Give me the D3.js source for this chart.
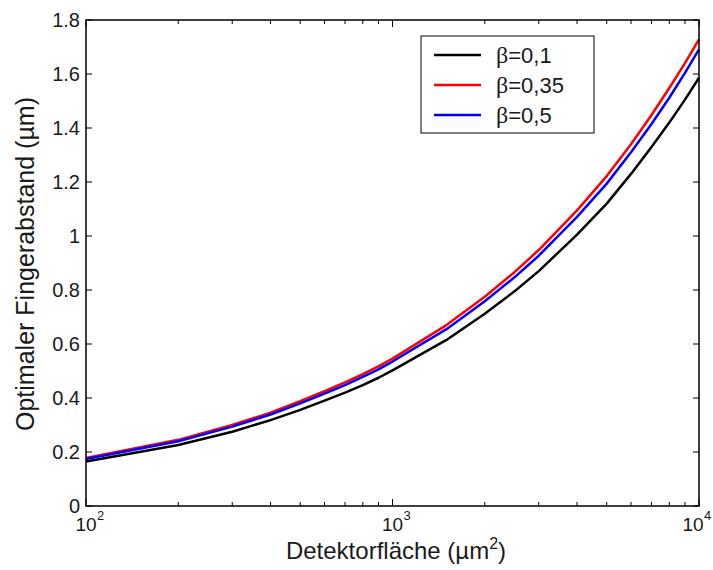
<!DOCTYPE html>
<html lang="de">
<head>
    <meta charset="UTF-8">
    <title>Optimaler Fingerabstand</title>
    <script src="https://d3js.org/d3.v7.min.js"></script>
    <style>
        body { margin: 0; background: #fff; }
        svg { display: block; font-family: "Liberation Sans", Arial, sans-serif; }
    </style>
</head>
<body>
<svg id="chart" width="713" height="570"></svg>
<script>
// Detektorfläche (µm²)
const areas = [100, 200, 300, 400, 500, 600, 700, 800, 900, 1000, 1500, 2000, 2500, 3000, 4000, 5000, 6000, 7000, 8000, 9000, 10000];
// optimaler Fingerabstand (µm) per beta
const beta01  = [0.165, 0.226, 0.275, 0.318, 0.356, 0.390, 0.420, 0.448, 0.475, 0.502, 0.615, 0.712, 0.795, 0.870, 1.005, 1.120, 1.230, 1.330, 1.420, 1.505, 1.586];
const beta035 = [0.178, 0.245, 0.300, 0.346, 0.388, 0.425, 0.458, 0.488, 0.517, 0.546, 0.670, 0.775, 0.866, 0.948, 1.095, 1.222, 1.340, 1.448, 1.548, 1.640, 1.728];
const beta05  = [0.174, 0.240, 0.294, 0.339, 0.380, 0.416, 0.448, 0.478, 0.506, 0.535, 0.655, 0.758, 0.847, 0.927, 1.071, 1.194, 1.310, 1.415, 1.512, 1.604, 1.691];
const seriesNames = ["0,1", "0,35", "0,5"];
const seriesColors = ["#000000", "#ff0000", "#0000ff"];
const yTicks = [0, 0.2, 0.4, 0.6, 0.8, 1, 1.2, 1.4, 1.6, 1.8];
const xMajor = [100, 1000, 10000];

const svg = d3.select("#chart");
const plotL = 86, plotR = 699, plotT = 20, plotB = 506;

const x = d3.scaleLog().domain([100, 10000]).range([plotL, plotR]);
const y = d3.scaleLinear().domain([0, 1.8]).range([plotB, plotT]);

const series = [beta01, beta035, beta05];

// minor ticks for log axis
const xMinor = [];
[100, 1000].forEach(dec => {
    for (let k = 2; k <= 9; k++) xMinor.push(dec * k);
});

const g = svg.append("g");

// ticks (inward, on all four sides)
const tickG = g.append("g").attr("stroke", "#000").attr("stroke-width", 1);
xMinor.forEach(v => {
    tickG.append("line").attr("x1", x(v)).attr("x2", x(v)).attr("y1", plotB).attr("y2", plotB - 4);
    tickG.append("line").attr("x1", x(v)).attr("x2", x(v)).attr("y1", plotT).attr("y2", plotT + 4);
});
xMajor.forEach(v => {
    tickG.append("line").attr("x1", x(v)).attr("x2", x(v)).attr("y1", plotB).attr("y2", plotB - 7);
    tickG.append("line").attr("x1", x(v)).attr("x2", x(v)).attr("y1", plotT).attr("y2", plotT + 7);
});
yTicks.forEach(v => {
    tickG.append("line").attr("x1", plotL).attr("x2", plotL + 6).attr("y1", y(v)).attr("y2", y(v));
    tickG.append("line").attr("x1", plotR).attr("x2", plotR - 6).attr("y1", y(v)).attr("y2", y(v));
});

// data lines
const line = d3.line()
    .x((d, i) => x(areas[i]))
    .y(d => y(d));

series.forEach((s, i) => {
    g.append("path")
        .datum(s)
        .attr("fill", "none")
        .attr("stroke", seriesColors[i])
        .attr("stroke-width", 2.5)
        .attr("stroke-linejoin", "round")
        .attr("d", line);
});

// frame
g.append("rect")
    .attr("x", plotL).attr("y", plotT)
    .attr("width", plotR - plotL).attr("height", plotB - plotT)
    .attr("fill", "none").attr("stroke", "#000").attr("stroke-width", 1.5);

// y tick labels
yTicks.forEach(v => {
    g.append("text")
        .attr("x", plotL - 6)
        .attr("y", y(v))
        .attr("dy", "0.36em")
        .attr("text-anchor", "end")
        .attr("font-size", 20)
        .attr("fill", "#1a1a1a")
        .text(String(v));
});

// x tick labels 10^n (last one nudged left so it stays inside the figure)
xMajor.forEach((v, i) => {
    const cx = x(v) - (i === xMajor.length - 1 ? 6 : 0);
    g.append("text")
        .attr("x", cx)
        .attr("y", 531)
        .attr("text-anchor", "middle")
        .attr("font-size", 19)
        .attr("fill", "#1a1a1a")
        .text("10");
    g.append("text")
        .attr("x", cx + 11)
        .attr("y", 520)
        .attr("font-size", 13)
        .attr("fill", "#1a1a1a")
        .text(Math.round(Math.log10(v)));
});

// axis labels
const xl = g.append("text")
    .attr("x", 396)
    .attr("y", 559)
    .attr("text-anchor", "middle")
    .attr("font-size", 24)
    .attr("fill", "#1a1a1a");
xl.append("tspan").text("Detektorfläche (µm");
xl.append("tspan").attr("dy", -10).attr("font-size", 16).text("2");
xl.append("tspan").attr("dy", 10).text(")");

g.append("text")
    .attr("transform", `translate(34, 264) rotate(-90)`)
    .attr("text-anchor", "middle")
    .attr("font-size", 25)
    .attr("fill", "#1a1a1a")
    .text("Optimaler Fingerabstand (µm)");

// legend
const lg = g.append("g");
lg.append("rect")
    .attr("x", 421).attr("y", 36)
    .attr("width", 173).attr("height", 97)
    .attr("fill", "#fff").attr("stroke", "#000").attr("stroke-width", 1);

seriesNames.forEach((name, i) => {
    const ly = 55 + i * 30;
    lg.append("line")
        .attr("x1", 434).attr("x2", 481)
        .attr("y1", ly).attr("y2", ly)
        .attr("stroke", seriesColors[i]).attr("stroke-width", 2.5);
    const t = lg.append("text")
        .attr("x", 496)
        .attr("y", ly)
        .attr("dy", "0.36em")
        .attr("font-size", 22)
        .attr("fill", "#1a1a1a");
    t.append("tspan").attr("font-family", "Liberation Serif, serif").attr("font-size", 24).text("β");
    t.append("tspan").text("=" + name);
});
</script>
</body>
</html>
